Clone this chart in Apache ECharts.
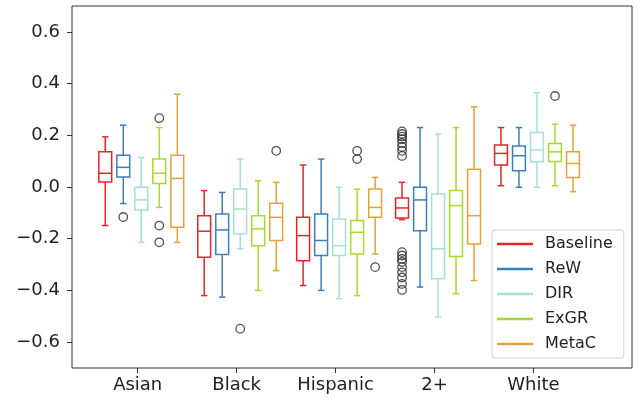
<!DOCTYPE html>
<html>
<head>
<meta charset="utf-8">
<script src="https://cdn.jsdelivr.net/npm/echarts@6/dist/echarts.min.js"></script>
<style>
html,body{margin:0;padding:0;background:#fff;}
#chart{width:641px;height:404px;}
</style>
</head>
<body>
<div id="chart"></div>
<script>
// ---- data ----
const categories = ['Asian', 'Black', 'Hispanic', '2+', 'White'];
const seriesNames = ['Baseline', 'ReW', 'DIR', 'ExGR', 'MetaC'];
const yTicks = [-0.6, -0.4, -0.2, 0.0, 0.2, 0.4, 0.6];

// each row: [lowWhisker, Q1, median, Q3, highWhisker] per category
const baselineBoxes = [
  [-0.149, 0.019, 0.053, 0.136, 0.194],
  [-0.420, -0.272, -0.171, -0.111, -0.014],
  [-0.381, -0.285, -0.188, -0.117, 0.085],
  [-0.126, -0.120, -0.081, -0.043, 0.018],
  [0.005, 0.085, 0.130, 0.162, 0.230]
];
const rewBoxes = [
  [-0.064, 0.039, 0.076, 0.123, 0.239],
  [-0.426, -0.261, -0.166, -0.104, -0.021],
  [-0.400, -0.265, -0.207, -0.104, 0.108],
  [-0.387, -0.169, -0.050, -0.001, 0.230],
  [-0.001, 0.063, 0.121, 0.159, 0.230]
];
const dirBoxes = [
  [-0.214, -0.089, -0.050, -0.001, 0.114],
  [-0.239, -0.181, -0.085, -0.008, 0.108],
  [-0.432, -0.265, -0.227, -0.124, -0.001],
  [-0.503, -0.355, -0.239, -0.027, 0.205],
  [-0.001, 0.098, 0.143, 0.211, 0.365]
];
const exgrBoxes = [
  [-0.079, 0.014, 0.053, 0.108, 0.230],
  [-0.400, -0.227, -0.162, -0.111, 0.024],
  [-0.420, -0.259, -0.175, -0.130, -0.008],
  [-0.413, -0.269, -0.072, -0.014, 0.230],
  [0.005, 0.099, 0.136, 0.168, 0.243]
];
const metacBoxes = [
  [-0.214, -0.156, 0.033, 0.123, 0.359],
  [-0.323, -0.207, -0.117, -0.063, 0.018],
  [-0.259, -0.117, -0.079, -0.008, 0.037],
  [-0.362, -0.220, -0.111, 0.069, 0.310],
  [-0.018, 0.037, 0.091, 0.136, 0.239]
];
// outliers: [categoryIndex, value]
const baselineOutliers = [
  [3, 0.215], [3, 0.205], [3, 0.195], [3, 0.185], [3, 0.170], [3, 0.155], [3, 0.140], [3, 0.120],
  [3, -0.252], [3, -0.265], [3, -0.278], [3, -0.290], [3, -0.310], [3, -0.330], [3, -0.350], [3, -0.375], [3, -0.398]
];
const rewOutliers = [[0, -0.116]];
const dirOutliers = [[1, -0.548]];
const exgrOutliers = [[0, 0.266], [0, -0.149], [0, -0.214], [2, 0.140], [2, 0.108], [4, 0.352]];
const metacOutliers = [[1, 0.140], [2, -0.310]];

const allBoxes = [baselineBoxes, rewBoxes, dirBoxes, exgrBoxes, metacBoxes];
const allOutliers = [baselineOutliers, rewOutliers, dirOutliers, exgrOutliers, metacOutliers];

// ---- styling ----
const colors = ['#e3262e', '#3a80bd', '#a6e0d3', '#a8da2e', '#e5a238'];
const offsets = [-0.328, -0.146, 0.036, 0.218, 0.400];
const boxW = 0.13;
const FONT = 'DejaVu Sans';

function renderBox(color) {
  return function (params, api) {
    const x = api.value(0);
    const lo = api.value(1), q1 = api.value(2), med = api.value(3), q3 = api.value(4), hi = api.value(5);
    const h = boxW / 2, c = boxW / 4;
    const tl = api.coord([x - h, q3]);
    const br = api.coord([x + h, q1]);
    const pMedL = api.coord([x - h, med]), pMedR = api.coord([x + h, med]);
    const pHi = api.coord([x, hi]), pQ3 = api.coord([x, q3]);
    const pLo = api.coord([x, lo]), pQ1 = api.coord([x, q1]);
    const capHiL = api.coord([x - c, hi]), capHiR = api.coord([x + c, hi]);
    const capLoL = api.coord([x - c, lo]), capLoR = api.coord([x + c, lo]);
    const st = { stroke: color, lineWidth: 1.5, fill: null };
    const line = (a, b) => ({ type: 'line', shape: { x1: a[0], y1: a[1], x2: b[0], y2: b[1] }, style: st });
    return {
      type: 'group',
      children: [
        { type: 'rect', shape: { x: tl[0], y: tl[1], width: br[0] - tl[0], height: br[1] - tl[1] }, style: { stroke: color, lineWidth: 1.5, fill: 'none' } },
        line(pMedL, pMedR),
        line(pQ3, pHi),
        line(pQ1, pLo),
        line(capHiL, capHiR),
        line(capLoL, capLoR)
      ]
    };
  };
}

const series = [];
seriesNames.forEach((name, s) => {
  series.push({
    name: name,
    type: 'custom',
    itemStyle: { color: colors[s] },
    renderItem: renderBox(colors[s]),
    encode: { x: 0, y: [1, 2, 3, 4, 5] },
    data: allBoxes[s].map((b, i) => [i + 1 + offsets[s]].concat(b)),
    z: 2
  });
});
seriesNames.forEach((name, s) => {
  series.push({
    name: name + ' outliers',
    type: 'scatter',
    symbol: 'circle',
    symbolSize: 8.5,
    itemStyle: { color: 'rgba(0,0,0,0)', borderColor: '#262626', borderWidth: 1.3 },
    data: allOutliers[s].map(o => [o[0] + 1 + offsets[s], o[1]]),
    z: 3,
    silent: true
  });
});

const chart = echarts.init(document.getElementById('chart'), null, { renderer: 'canvas' });
chart.setOption({
  animation: false,
  backgroundColor: '#ffffff',
  textStyle: { fontFamily: FONT },
  grid: { left: 72, right: 9, top: 6, bottom: 36, show: true, borderColor: '#333', borderWidth: 1, backgroundColor: 'transparent' },
  xAxis: {
    type: 'value',
    min: 0.3357,
    max: 5.9965,
    splitLine: { show: false },
    axisLine: { show: false, onZero: false },
    axisTick: { show: true, length: 5, lineStyle: { color: '#333' }, customValues: [1, 2, 3, 4, 5] },
    axisLabel: {
      customValues: [1, 2, 3, 4, 5],
      formatter: v => categories[Math.round(v) - 1],
      fontSize: 18, color: '#222', fontFamily: FONT, margin: 8
    }
  },
  yAxis: {
    type: 'value',
    min: -0.7,
    max: 0.7,
    splitLine: { show: false },
    axisLine: { show: false, onZero: false },
    axisTick: { show: true, length: 5, lineStyle: { color: '#333' }, customValues: yTicks },
    axisLabel: {
      customValues: yTicks,
      formatter: v => (v < -1e-9 ? '\u2212' : '') + Math.abs(v).toFixed(1),
      fontSize: 18, color: '#222', fontFamily: FONT, margin: 12
    }
  },
  legend: {
    data: seriesNames.map(n => ({ name: n, icon: 'rect' })),
    orient: 'vertical',
    left: 492,
    top: 230,
    itemWidth: 36,
    itemHeight: 2.5,
    itemGap: 7,
    padding: [5, 11, 5, 5],
    backgroundColor: 'rgba(255,255,255,0.85)',
    borderColor: '#d0d0d0',
    borderWidth: 1,
    borderRadius: 3,
    textStyle: { fontSize: 16, fontFamily: FONT, color: '#222', lineHeight: 18, padding: [0, 0, 0, 7] },
    selectedMode: false
  },
  series: series
});
</script>
</body>
</html>
